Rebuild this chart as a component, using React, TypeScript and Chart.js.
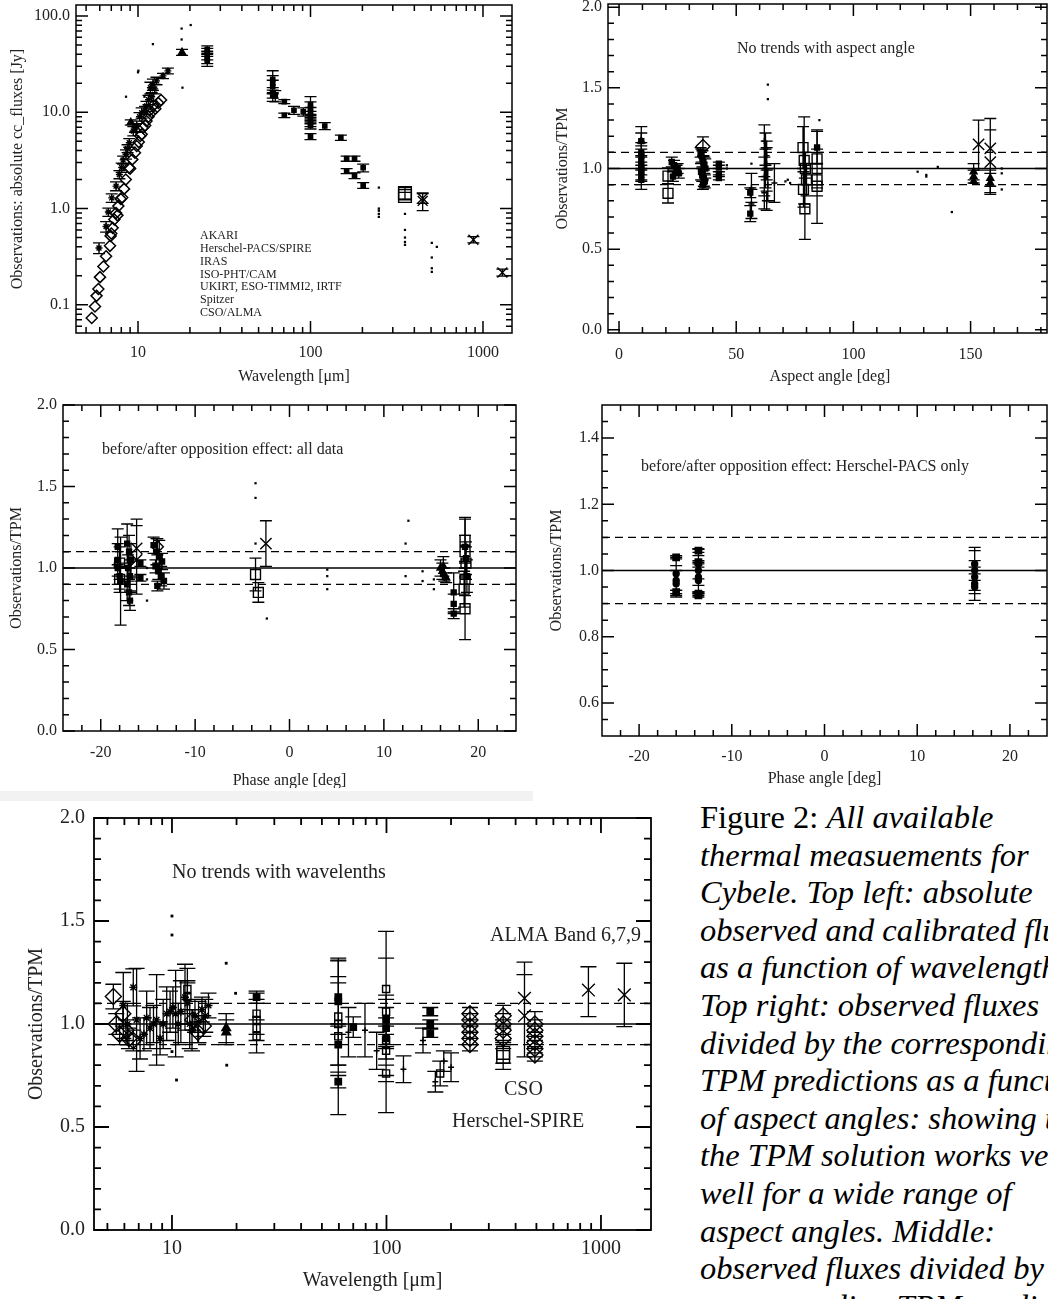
import React, { useEffect, useRef } from "react";
import { Chart, registerables } from "chart.js";
Chart.register(...registerables);

const FONT = '"Liberation Serif", "Times New Roman", serif';
const TXT = "#222";

// ---------------- Panel 1: absolute fluxes vs wavelength ----------------
const sedIsoWl = [5.39, 5.63, 5.75, 5.89, 6.02, 6.3, 6.53, 6.88, 6.94, 7.13, 7.29, 7.46, 7.69, 7.94, 8.3, 8.49, 8.87, 9.27, 9.83, 10.3, 10.7, 11.2, 11.7, 12.3, 13.1, 13.6, 7.0, 7.6, 8.1, 9.0, 9.6, 10.1, 10.5, 11.0, 11.5, 12.0, 12.6];
const sedIsoFlux = [0.073, 0.096, 0.124, 0.146, 0.194, 0.25, 0.32, 0.41, 0.52, 0.63, 0.77, 0.9, 1.06, 1.26, 1.6, 2.0, 2.65, 3.24, 4.46, 5.66, 6.93, 8.1, 10.5, 11.8, 12.5, 13.4, 0.55, 0.85, 1.3, 2.6, 3.8, 4.9, 5.9, 7.3, 9.0, 10.0, 10.9];
const sedStarWl = [5.94, 6.53, 6.73, 7.04, 7.46, 7.8, 8.04, 8.2, 8.52, 8.7, 8.9, 9.39, 9.6, 9.83, 10.2, 10.5, 11.0, 11.2, 11.5, 11.8, 12.0, 12.2, 12.5, 12.8, 13.96, 14.9];
const sedStarFlux = [0.39, 0.65, 0.92, 1.29, 1.71, 2.26, 2.67, 3.2, 3.66, 4.2, 4.83, 6.38, 6.9, 7.2, 9.0, 9.9, 10.5, 11.6, 13.5, 18.0, 14.5, 19.5, 17.5, 21.2, 23.9, 26.9];
const sedStarErr = [0.05, 0.08, 0.09, 0.13, 0.18, 0.22, 0.3, 0.3, 0.4, 0.4, 0.5, 0.7, 0.7, 0.9, 0.9, 1.2, 1.0, 1.4, 1.5, 2.5, 1.5, 2.6, 2.0, 1.9, 1.5, 1.8];
const sedTriWl = [9.08, 18.0];
const sedTriFlux = [7.85, 42];
const sedTriErr = [0.5, 3];
const sedDotWl = [12.2, 10.0, 10.05, 8.52, 10.9, 17.9, 17.9, 20.2, 18.1, 249, 249, 249, 249, 249, 353, 353, 353, 353, 353, 505, 505, 505, 505, 540];
const sedDotFlux = [51, 26, 27, 14.5, 14.5, 74, 57, 80.5, 18, 1.65, 1.0, 0.95, 0.88, 0.82, 0.88, 0.6, 0.5, 0.45, 0.42, 0.44, 0.31, 0.24, 0.22, 0.4];
const sedFarWl = [25.2, 25.2, 25.2, 25.2, 25.2, 60.4, 60.4, 60.4, 60.4, 60.4, 62.5, 70.5, 70.5, 80.2, 90.8, 100, 100, 100, 100, 100, 100, 100, 100, 121, 150, 162, 162, 180, 180, 202, 202];
const sedFarFlux = [45, 42, 39, 36, 34, 22, 20, 18.5, 16, 15, 14.8, 12.9, 9.3, 10.5, 10.1, 12, 11, 10, 9.2, 8.4, 7.8, 7.3, 5.6, 7.2, 5.45, 3.3, 2.45, 3.3, 2.2, 2.65, 1.74];
const sedFarErr = [4, 4, 4, 4, 4, 5, 4, 3, 2, 2, 2, 0.6, 0.5, 1.0, 1.0, 2.5, 1.8, 1.2, 1.0, 0.8, 0.7, 0.6, 0.4, 0.6, 0.35, 0.2, 0.15, 0.2, 0.15, 0.25, 0.12];
const sedCsoWl = [353, 353];
const sedCsoFlux = [1.45, 1.35];
const sedCsoErr = [0.2, 0.12];
const sedAlmaWl = [447, 447, 880, 1295];
const sedAlmaFlux = [1.2, 1.28, 0.475, 0.217];
const sedAlmaErr = [0.25, 0.15, 0.035, 0.018];
const sedLegend = ["AKARI", "Herschel-PACS/SPIRE", "IRAS", "ISO-PHT/CAM", "UKIRT, ESO-TIMMI2, IRTF", "Spitzer", "CSO/ALMA"];

// ---------------- Panel 2: ratio vs aspect angle ----------------
const aspFilledX = [9.5, 9.5, 9.5, 9.5, 9.5, 9.5, 9.5, 9.5, 9.5, 22.5, 23.5, 24.5, 25.5, 23, 25, 34.8, 35.2, 35.6, 36, 36.4, 36.8, 35, 35.5, 36.2, 36.6, 35.8, 42.6, 42.6, 42.6, 42.6, 56, 56, 84.5];
const aspFilledY = [1.17, 1.1, 1.08, 1.05, 1.02, 1.0, 0.98, 0.96, 0.93, 1.04, 1.02, 0.99, 0.97, 0.95, 1.0, 1.1, 1.08, 1.06, 1.04, 1.02, 1.0, 0.98, 0.96, 0.94, 0.92, 0.9, 1.03, 1.01, 0.97, 0.94, 0.85, 0.72, 1.13];
const aspFilledErr = [0.09, 0.06, 0.06, 0.05, 0.06, 0.07, 0.06, 0.06, 0.06, 0.03, 0.03, 0.03, 0.03, 0.03, 0.03, 0.03, 0.04, 0.05, 0.04, 0.05, 0.06, 0.05, 0.04, 0.05, 0.04, 0.03, 0.01, 0.01, 0.01, 0.01, 0.03, 0.05, 0.1];
const aspPlusX = [62, 62.5, 63, 63, 62.5, 62, 63.5, 62, 63, 66.3, 56.5, 56.5];
const aspPlusY = [1.17, 1.12, 1.08, 1.03, 1.0, 0.95, 0.9, 0.85, 0.8, 0.91, 0.78, 0.88];
const aspPlusErr = [0.1, 0.1, 0.09, 0.1, 0.12, 0.12, 0.1, 0.1, 0.06, 0.12, 0.09, 0.09];
const aspSqX = [20.9, 20.9, 78.5, 79, 79.5, 80, 78.7, 79.3, 84.5, 84.5, 84.5, 84.5];
const aspSqY = [0.953, 0.846, 1.13, 1.05, 1.0, 0.93, 0.87, 0.75, 1.06, 1.0, 0.93, 0.89];
const aspSqErr = [0.05, 0.06, 0.13, 0.27, 0.1, 0.1, 0.11, 0.19, 0.18, 0.1, 0.1, 0.23];
const aspDiaX = [35.8];
const aspDiaY = [1.136];
const aspDiaErr = [0.06];
const aspTriX = [151.3, 151.3, 151.3, 158.4, 158.4, 9.5];
const aspTriY = [0.98, 0.95, 0.92, 0.94, 0.91, 1.17];
const aspTriErr = [0.05, 0.04, 0.01, 0.05, 0.06, 0.05];
const aspXX = [153.4, 158.4, 158.4];
const aspXY = [1.15, 1.125, 1.04];
const aspXLo = [0.99, 0.84, 0.84];
const aspXHi = [1.3, 1.31, 1.24];
const aspDotX = [46, 46, 56.5, 63.5, 63.5, 71, 72, 73, 85.5, 127.4, 131.1, 131.1, 136, 142, 163.3, 163.3, 163.3];
const aspDotY = [1.02, 1.0, 1.03, 1.52, 1.43, 0.92, 0.93, 0.91, 1.3, 0.98, 0.96, 0.95, 1.01, 0.73, 1.0, 0.97, 0.87];

// ---------------- Panel 3: ratio vs phase angle (all data) ----------------
const phFilledX = [-18.2, -18.2, -18.2, -18.0, -17.9, -17.2, -17.0, -16.8, -17.1, -16.9, -17.2, -17.0, -16.9, -15.8, -15.8, -14.4, -14.1, -13.8, -13.5, -14.2, -13.9, -13.6, -13.3, -14.0, 17.4, 17.4, 17.4, 18.6, 18.7, 18.8];
const phFilledY = [1.13, 1.05, 1.0, 0.95, 0.92, 1.15, 1.1, 1.05, 1.0, 0.95, 0.9, 0.85, 0.8, 1.03, 0.94, 1.14, 1.1, 1.07, 1.04, 1.01, 0.98, 0.95, 0.92, 0.89, 0.85, 0.78, 0.72, 1.13, 1.06, 0.95];
const phFilledErr = [0.11, 0.1, 0.1, 0.08, 0.27, 0.12, 0.1, 0.1, 0.08, 0.1, 0.1, 0.08, 0.06, 0.02, 0.02, 0.05, 0.08, 0.1, 0.05, 0.04, 0.05, 0.06, 0.05, 0.03, 0.12, 0.06, 0.03, 0.18, 0.1, 0.1];
const phSqX = [-18.0, -18.0, -3.6, -3.3, 18.6, 18.6, 18.7, 18.6, 18.5, 18.6];
const phSqY = [1.03, 0.93, 0.96, 0.85, 1.17, 1.1, 1.03, 0.93, 0.87, 0.75];
const phSqErr = [0.1, 0.08, 0.1, 0.06, 0.13, 0.1, 0.1, 0.1, 0.11, 0.19];
const phXX = [-16.2, -16.2, -2.5];
const phXY = [1.12, 1.05, 1.15];
const phXErr = [0.18, 0.21, 0.14];
const phDiaX = [-14.0];
const phDiaY = [1.13];
const phDiaErr = [0.05];
const phTriX = [16.0, 16.2, 16.4, 16.6, 16.3];
const phTriY = [1.0, 0.98, 0.96, 0.94, 1.01];
const phTriErr = [0.05, 0.05, 0.04, 0.03, 0.06];
const phDotX = [-15.1, -15.1, -15.1, -3.6, -3.6, -3.6, -2.4, 4.0, 4.0, 4.0, 12.3, 12.3, 12.6, 14.1, 14.1, 15.3, 15.3];
const phDotY = [1.0, 0.93, 0.8, 1.52, 1.43, 1.15, 0.69, 0.99, 0.95, 0.87, 1.15, 0.95, 1.29, 0.98, 0.92, 0.93, 0.87];

// ---------------- Panel 4: Herschel-PACS only ----------------
const pacsSqX = [-16.0, -16.0, -13.6, -13.6, -13.6, -13.6];
const pacsSqY = [1.04, 0.935, 1.06, 1.025, 0.93, 0.925];
const pacsSqErr = [0.005, 0.005, 0.005, 0.005, 0.005, 0.005];
const pacsCircX = [-16.0, -16.0, -16.0, -13.6, -13.6, -13.6, -13.6, 16.2, 16.2, 16.2, 16.2, 16.2];
const pacsCircY = [0.99, 0.97, 0.96, 1.02, 1.0, 0.98, 0.97, 1.02, 1.0, 0.98, 0.96, 0.95];
const pacsCircErr = [0.05, 0.045, 0.04, 0.045, 0.045, 0.045, 0.04, 0.05, 0.06, 0.05, 0.05, 0.04];

// ---------------- Panel 5: ratio vs wavelength ----------------
const wlDiaX = [5.33, 5.5, 5.7, 5.9, 6.1, 6.3, 6.6, 12.5, 13.2, 14.0, 245, 245, 245, 245, 245, 245, 350, 350, 350, 350, 492, 492, 492, 492, 492, 492];
const wlDiaY = [1.133, 1.0, 0.95, 1.05, 0.97, 0.93, 0.92, 1.02, 0.96, 0.99, 1.05, 1.02, 0.99, 0.96, 0.93, 0.9, 1.04, 1.0, 0.97, 0.93, 1.0, 0.97, 0.94, 0.91, 0.88, 0.85];
const wlDiaErr = [0.06, 0.05, 0.05, 0.06, 0.05, 0.05, 0.05, 0.05, 0.05, 0.05, 0.03, 0.03, 0.03, 0.03, 0.03, 0.03, 0.05, 0.05, 0.05, 0.05, 0.06, 0.05, 0.05, 0.05, 0.04, 0.03];
const wlPlusX = [5.93, 6.2, 6.6, 6.84, 7.1, 7.4, 7.62, 7.9, 8.2, 8.48, 8.8, 9.1, 9.45, 9.8, 10.1, 10.4, 10.7, 11.0, 11.5, 11.8, 12.1, 12.4, 12.8, 13.3, 13.8, 14.3, 14.8];
const wlPlusY = [1.09, 1.0, 1.178, 1.02, 0.93, 0.95, 1.03, 0.98, 1.0, 1.02, 0.93, 1.0, 1.05, 1.06, 1.08, 1.05, 1.0, 1.06, 1.13, 1.1, 1.0, 0.97, 1.04, 1.01, 1.07, 1.04, 1.09];
const wlPlusErr = [0.16, 0.1, 0.09, 0.25, 0.1, 0.08, 0.13, 0.1, 0.09, 0.22, 0.08, 0.12, 0.13, 0.1, 0.1, 0.21, 0.1, 0.15, 0.16, 0.1, 0.12, 0.1, 0.08, 0.1, 0.06, 0.08, 0.06];
const wlFillX = [24.8, 59.6, 59.6, 59.6, 59.6, 70, 99.6, 99.6, 99.6, 160, 160, 160];
const wlFillY = [1.13, 1.13, 1.11, 0.9, 0.72, 0.985, 1.02, 0.98, 0.93, 1.06, 1.0, 0.955];
const wlFillErr = [0.03, 0.18, 0.12, 0.1, 0.03, 0.05, 0.12, 0.1, 0.1, 0.02, 0.02, 0.02];
const wlSqX = [11.8, 11.8, 24.8, 24.8, 24.8, 24.8, 59.6, 59.6, 59.6, 99.6, 99.6, 99.6, 99.6, 99.6, 178];
const wlSqY = [1.17, 1.13, 1.05, 1.02, 0.98, 0.94, 1.036, 1.0, 0.94, 1.17, 1.06, 0.92, 0.87, 0.76, 0.76];
const wlSqErr = [0.1, 0.08, 0.1, 0.1, 0.12, 0.08, 0.27, 0.2, 0.38, 0.28, 0.26, 0.2, 0.12, 0.19, 0.06];
const wlCsoX = [350, 350];
const wlCsoY = [0.86, 0.84];
const wlCsoErr = [0.05, 0.06];
const wlCrossX = [66.5, 79.4, 90, 120, 148, 169, 185, 200];
const wlCrossY = [0.96, 0.97, 0.87, 0.78, 0.92, 0.72, 0.82, 0.79];
const wlCrossErr = [0.12, 0.13, 0.09, 0.065, 0.06, 0.05, 0.05, 0.07];
const wlTriX = [17.9, 17.9];
const wlTriY = [0.98, 0.96];
const wlTriErr = [0.07, 0.06];
const wlXX = [440, 440, 874, 1285];
const wlXY = [1.125, 1.04, 1.165, 1.141];
const wlXLo = [0.84, 0.84, 1.036, 0.987];
const wlXHi = [1.3, 1.24, 1.278, 1.295];
const wlDotX = [10.0, 10.0, 10.0, 10.5, 17.9, 19.8, 18.0];
const wlDotY = [1.524, 1.432, 0.866, 0.728, 1.295, 1.149, 0.8];

// ---------------- ticks ----------------
const logMajor = [10, 100, 1000];
const logMajorLabels = ["10", "100", "1000"];
const logMinor = [5, 6, 7, 8, 9, 20, 30, 40, 50, 60, 70, 80, 90, 200, 300, 400, 500, 600, 700, 800, 900];
const fluxMajor = [0.1, 1, 10, 100];
const fluxLabels = ["0.1", "1.0", "10.0", "100.0"];
const fluxMinor = [0.06, 0.07, 0.08, 0.09, 0.2, 0.3, 0.4, 0.5, 0.6, 0.7, 0.8, 0.9, 2, 3, 4, 5, 6, 7, 8, 9, 20, 30, 40, 50, 60, 70, 80, 90];
const ratioMajor = [0, 0.5, 1.0, 1.5, 2.0];
const ratioLabels = ["0.0", "0.5", "1.0", "1.5", "2.0"];
const ratioMinor = [0.1, 0.2, 0.3, 0.4, 0.6, 0.7, 0.8, 0.9, 1.1, 1.2, 1.3, 1.4, 1.6, 1.7, 1.8, 1.9];
const aspMajor = [0, 50, 100, 150];
const aspLabels = ["0", "50", "100", "150"];
const aspMinor = [10, 20, 30, 40, 60, 70, 80, 90, 110, 120, 130, 140, 160, 170, 180];
const phMajor = [-20, -10, 0, 10, 20];
const phLabels = ["-20", "-10", "0", "10", "20"];
const phMinor = [-22, -18, -16, -14, -12, -8, -6, -4, -2, 2, 4, 6, 8, 12, 14, 16, 18, 22];
const pacsMajor = [0.6, 0.8, 1.0, 1.2, 1.4];
const pacsLabels = ["0.6", "0.8", "1.0", "1.2", "1.4"];
const pacsMinor = [0.55, 0.65, 0.7, 0.75, 0.85, 0.9, 0.95, 1.05, 1.1, 1.15, 1.25, 1.3, 1.35, 1.45];
const refLevels = [1.0, 1.1, 0.9];

const captionLines = [
  "All available",
  "thermal measuements for",
  "Cybele. Top left: absolute",
  "observed and calibrated fluxes",
  "as a function of wavelength.",
  "Top right: observed fluxes",
  "divided by the corresponding",
  "TPM predictions as a function",
  "of aspect angles: showing that",
  "the TPM solution works very",
  "well for a wide range of",
  "aspect angles. Middle:",
  "observed fluxes divided by",
  "corresponding TPM predictions",
];

// ---------------- helpers ----------------
type Mark = "dia" | "sq" | "fsq" | "tri" | "circ" | "x" | "dot" | "star" | "plus";
const MARKS: Record<Mark, { ps: string; fill: boolean }> = {
  dia: { ps: "rectRot", fill: false },
  sq: { ps: "rect", fill: false },
  fsq: { ps: "rect", fill: true },
  tri: { ps: "triangle", fill: true },
  circ: { ps: "circle", fill: true },
  x: { ps: "crossRot", fill: false },
  dot: { ps: "rect", fill: true },
  star: { ps: "star", fill: false },
  plus: { ps: "cross", fill: false },
};

function mk(mark: Mark, xs: number[], ys: number[], o: { err?: number[]; lo?: number[]; hi?: number[]; r: number; cap?: number; bw?: number }) {
  const st = MARKS[mark];
  const lo = o.lo ?? (o.err ? ys.map((y, i) => y - o.err![i]) : undefined);
  const hi = o.hi ?? (o.err ? ys.map((y, i) => y + o.err![i]) : undefined);
  return {
    type: "scatter",
    data: xs.map((x, i) => ({ x, y: ys[i] })),
    pointStyle: st.ps,
    pointRadius: o.r,
    pointHoverRadius: o.r,
    pointBackgroundColor: st.fill ? "#000" : "rgba(0,0,0,0)",
    pointBorderColor: "#000",
    pointBorderWidth: o.bw ?? 1.4,
    showLine: false,
    errLo: lo,
    errHi: hi,
    cap: o.cap ?? 5,
  };
}

function refLines(xmin: number, xmax: number) {
  return refLevels.map((lv, i) => ({
    type: "line",
    data: [{ x: xmin, y: lv }, { x: xmax, y: lv }],
    borderColor: "#000",
    borderWidth: 1.3,
    borderDash: i === 0 ? [] : [8, 5],
    pointRadius: 0,
    fill: false,
  }));
}

const errorBarPlugin = {
  id: "errBars",
  beforeDatasetsDraw(chart: any) {
    const { ctx, chartArea: a } = chart;
    const xs = chart.scales.x, ys = chart.scales.y;
    ctx.save();
    ctx.beginPath();
    ctx.rect(a.left, a.top, a.right - a.left, a.bottom - a.top);
    ctx.clip();
    ctx.strokeStyle = "#000";
    ctx.lineWidth = 1.3;
    ctx.setLineDash([]);
    chart.data.datasets.forEach((ds: any) => {
      if (!ds.errLo) return;
      ctx.beginPath();
      ds.data.forEach((p: any, i: number) => {
        const x = xs.getPixelForValue(p.x);
        const y1 = ys.getPixelForValue(ds.errLo[i]);
        const y2 = ys.getPixelForValue(ds.errHi[i]);
        ctx.moveTo(x, y1); ctx.lineTo(x, y2);
        ctx.moveTo(x - ds.cap, y1); ctx.lineTo(x + ds.cap, y1);
        ctx.moveTo(x - ds.cap, y2); ctx.lineTo(x + ds.cap, y2);
      });
      ctx.stroke();
    });
    ctx.restore();
  },
};

type Note = { text: string; x: number; y: number; px?: number };
type AxesCfg = {
  xMajor: number[]; xLabels: string[]; xMinor: number[];
  yMajor: number[]; yLabels: string[]; yMinor: number[];
  fontPx: number; xLabelY: number; yLabelRight: number;
  xTitle: string; xTitleY: number; xTitleX?: number;
  yTitle: string; yTitleX: number; yTitleY?: number;
  maj: number; min: number; lw: number; notes: Note[];
};

function axesPlugin(c: AxesCfg) {
  return {
    id: "idlAxes",
    afterDraw(chart: any) {
      const { ctx, chartArea: a } = chart;
      const xs = chart.scales.x, ys = chart.scales.y;
      ctx.save();
      ctx.strokeStyle = "#000";
      ctx.lineWidth = c.lw;
      ctx.setLineDash([]);
      ctx.strokeRect(a.left, a.top, a.right - a.left, a.bottom - a.top);
      ctx.beginPath();
      const xt = (v: number, len: number) => {
        const p = xs.getPixelForValue(v);
        ctx.moveTo(p, a.bottom); ctx.lineTo(p, a.bottom - len);
        ctx.moveTo(p, a.top); ctx.lineTo(p, a.top + len);
      };
      const yt = (v: number, len: number) => {
        const p = ys.getPixelForValue(v);
        ctx.moveTo(a.left, p); ctx.lineTo(a.left + len, p);
        ctx.moveTo(a.right, p); ctx.lineTo(a.right - len, p);
      };
      c.xMajor.forEach((v) => xt(v, c.maj));
      c.xMinor.forEach((v) => xt(v, c.min));
      c.yMajor.forEach((v) => yt(v, c.maj));
      c.yMinor.forEach((v) => yt(v, c.min));
      ctx.stroke();
      ctx.fillStyle = TXT;
      ctx.font = `${c.fontPx}px ${FONT}`;
      ctx.textBaseline = "middle";
      ctx.textAlign = "center";
      c.xMajor.forEach((v, i) => ctx.fillText(c.xLabels[i], xs.getPixelForValue(v), c.xLabelY));
      ctx.textAlign = "right";
      c.yMajor.forEach((v, i) => ctx.fillText(c.yLabels[i], c.yLabelRight, ys.getPixelForValue(v)));
      ctx.textAlign = "center";
      ctx.fillText(c.xTitle, c.xTitleX ?? (a.left + a.right) / 2, c.xTitleY);
      ctx.save();
      ctx.translate(c.yTitleX, c.yTitleY ?? (a.top + a.bottom) / 2);
      ctx.rotate(-Math.PI / 2);
      ctx.fillText(c.yTitle, 0, 0);
      ctx.restore();
      ctx.textAlign = "left";
      c.notes.forEach((n) => {
        ctx.font = `${n.px ?? c.fontPx}px ${FONT}`;
        ctx.fillText(n.text, n.x, n.y);
      });
      ctx.restore();
    },
  };
}

type PanelCfg = {
  left: number; top: number; w: number; h: number;
  area: { l: number; t: number; r: number; b: number };
  xType: string; xMin: number; xMax: number;
  yType: string; yMin: number; yMax: number;
  datasets: () => any[];
  axes: AxesCfg;
};

function Panel({ cfg }: { cfg: PanelCfg }) {
  const ref = useRef<HTMLCanvasElement>(null);
  useEffect(() => {
    const chart = new Chart(ref.current as HTMLCanvasElement, {
      type: "scatter",
      data: { datasets: cfg.datasets() as any },
      options: {
        responsive: false,
        animation: false,
        devicePixelRatio: 1,
        events: [],
        layout: {
          autoPadding: false,
          padding: { left: cfg.area.l, top: cfg.area.t, right: cfg.w - cfg.area.r, bottom: cfg.h - cfg.area.b },
        },
        scales: {
          x: { type: cfg.xType as any, min: cfg.xMin, max: cfg.xMax, display: false },
          y: { type: cfg.yType as any, min: cfg.yMin, max: cfg.yMax, display: false },
        },
        plugins: { legend: { display: false }, tooltip: { enabled: false } },
      },
      plugins: [errorBarPlugin, axesPlugin(cfg.axes)],
    } as any);
    return () => chart.destroy();
  }, []);
  return (
    <canvas
      ref={ref}
      width={cfg.w}
      height={cfg.h}
      style={{ position: "absolute", left: cfg.left, top: cfg.top, width: cfg.w, height: cfg.h }}
    />
  );
}

const FS = 16;

const panel1: PanelCfg = {
  left: 0, top: 0, w: 524, h: 392,
  area: { l: 76, t: 5, r: 512, b: 333 },
  xType: "logarithmic", xMin: 4.37, xMax: 1473,
  yType: "logarithmic", yMin: 0.051, yMax: 130,
  datasets: () => [
    mk("x", sedAlmaWl, sedAlmaFlux, { err: sedAlmaErr, r: 7, cap: 6 }),
    mk("sq", sedCsoWl, sedCsoFlux, { err: sedCsoErr, r: 9, cap: 6 }),
    mk("fsq", sedFarWl, sedFarFlux, { err: sedFarErr, r: 3, cap: 6 }),
    mk("dot", sedDotWl, sedDotFlux, { r: 1.6, bw: 0 }),
    mk("tri", sedTriWl, sedTriFlux, { err: sedTriErr, r: 4, cap: 6 }),
    mk("star", sedStarWl, sedStarFlux, { err: sedStarErr, r: 3.5, cap: 6 }),
    mk("dia", sedIsoWl, sedIsoFlux, { r: 5.5, bw: 1.5 }),
  ],
  axes: {
    xMajor: logMajor, xLabels: logMajorLabels, xMinor: logMinor,
    yMajor: fluxMajor, yLabels: fluxLabels, yMinor: fluxMinor,
    fontPx: FS, xLabelY: 353, yLabelRight: 70,
    xTitle: "Wavelength [μm]", xTitleY: 377,
    yTitle: "Observations: absolute cc_fluxes [Jy]", yTitleX: 18,
    maj: 12, min: 6, lw: 1.5,
    notes: sedLegend.map((t, i) => ({ text: t, x: 200, y: 236 + 12.8 * i, px: 12 })),
  },
};

const panel2: PanelCfg = {
  left: 524, top: 0, w: 524, h: 392,
  area: { l: 84, t: 4, r: 523, b: 333 },
  xType: "linear", xMin: -4.7, xMax: 182.6,
  yType: "linear", yMin: -0.02, yMax: 2.02,
  datasets: () => [
    mk("x", aspXX, aspXY, { lo: aspXLo, hi: aspXHi, r: 8, cap: 6 }),
    mk("dia", aspDiaX, aspDiaY, { err: aspDiaErr, r: 7, cap: 6 }),
    mk("sq", aspSqX, aspSqY, { err: aspSqErr, r: 7, cap: 6 }),
    mk("tri", aspTriX, aspTriY, { err: aspTriErr, r: 4, cap: 6 }),
    mk("fsq", aspFilledX, aspFilledY, { err: aspFilledErr, r: 3.5, cap: 6 }),
    mk("plus", aspPlusX, aspPlusY, { err: aspPlusErr, r: 3, cap: 6 }),
    mk("dot", aspDotX, aspDotY, { r: 1.6, bw: 0 }),
    ...refLines(-4.7, 182.6),
  ],
  axes: {
    xMajor: aspMajor, xLabels: aspLabels, xMinor: aspMinor,
    yMajor: ratioMajor, yLabels: ratioLabels, yMinor: ratioMinor,
    fontPx: FS, xLabelY: 355, yLabelRight: 78,
    xTitle: "Aspect angle [deg]", xTitleY: 377, xTitleX: 306,
    yTitle: "Observations/TPM", yTitleX: 39,
    maj: 12, min: 6, lw: 1.5,
    notes: [{ text: "No trends with aspect angle", x: 213, y: 49 }],
  },
};

const panel3: PanelCfg = {
  left: 0, top: 392, w: 533, h: 396,
  area: { l: 63, t: 13, r: 516, b: 339 },
  xType: "linear", xMin: -24, xMax: 24,
  yType: "linear", yMin: 0, yMax: 2,
  datasets: () => [
    mk("x", phXX, phXY, { err: phXErr, r: 8, cap: 6 }),
    mk("dia", phDiaX, phDiaY, { err: phDiaErr, r: 6, cap: 6 }),
    mk("sq", phSqX, phSqY, { err: phSqErr, r: 7, cap: 6 }),
    mk("tri", phTriX, phTriY, { err: phTriErr, r: 4, cap: 6 }),
    mk("fsq", phFilledX, phFilledY, { err: phFilledErr, r: 3.5, cap: 6 }),
    mk("dot", phDotX, phDotY, { r: 1.6, bw: 0 }),
    ...refLines(-24, 24),
  ],
  axes: {
    xMajor: phMajor, xLabels: phLabels, xMinor: phMinor,
    yMajor: ratioMajor, yLabels: ratioLabels, yMinor: ratioMinor,
    fontPx: FS, xLabelY: 361, yLabelRight: 57,
    xTitle: "Phase angle [deg]", xTitleY: 389,
    yTitle: "Observations/TPM", yTitleX: 17,
    maj: 12, min: 6, lw: 1.5,
    notes: [{ text: "before/after opposition effect: all data", x: 102, y: 58 }],
  },
};

const panel4: PanelCfg = {
  left: 533, top: 392, w: 515, h: 400,
  area: { l: 69, t: 13, r: 514, b: 344 },
  xType: "linear", xMin: -24, xMax: 24,
  yType: "linear", yMin: 0.5, yMax: 1.5,
  datasets: () => [
    mk("fsq", pacsSqX, pacsSqY, { err: pacsSqErr, r: 4.5, cap: 6 }),
    mk("circ", pacsCircX, pacsCircY, { err: pacsCircErr, r: 3, cap: 6 }),
    ...refLines(-24, 24),
  ],
  axes: {
    xMajor: phMajor, xLabels: phLabels, xMinor: phMinor,
    yMajor: pacsMajor, yLabels: pacsLabels, yMinor: pacsMinor,
    fontPx: FS, xLabelY: 365, yLabelRight: 66,
    xTitle: "Phase angle [deg]", xTitleY: 387,
    yTitle: "Observations/TPM", yTitleX: 24,
    maj: 12, min: 6, lw: 1.5,
    notes: [{ text: "before/after opposition effect: Herschel-PACS only", x: 108, y: 75 }],
  },
};

const panel5: PanelCfg = {
  left: 0, top: 800, w: 660, h: 499,
  area: { l: 94, t: 18, r: 651, b: 430 },
  xType: "logarithmic", xMin: 4.33, xMax: 1711,
  yType: "linear", yMin: 0, yMax: 2,
  datasets: () => [
    mk("x", wlXX, wlXY, { lo: wlXLo, hi: wlXHi, r: 9, cap: 8 }),
    mk("sq", wlCsoX, wlCsoY, { err: wlCsoErr, r: 9, cap: 8 }),
    mk("dia", wlDiaX, wlDiaY, { err: wlDiaErr, r: 8, cap: 8 }),
    mk("sq", wlSqX, wlSqY, { err: wlSqErr, r: 5, cap: 8 }),
    mk("tri", wlTriX, wlTriY, { err: wlTriErr, r: 5, cap: 8 }),
    mk("fsq", wlFillX, wlFillY, { err: wlFillErr, r: 4.5, cap: 8 }),
    mk("plus", wlCrossX, wlCrossY, { err: wlCrossErr, r: 3, cap: 8 }),
    mk("star", wlPlusX, wlPlusY, { err: wlPlusErr, r: 4, cap: 8 }),
    mk("dot", wlDotX, wlDotY, { r: 2, bw: 0 }),
    ...refLines(4.33, 1711),
  ],
  axes: {
    xMajor: logMajor, xLabels: logMajorLabels, xMinor: logMinor,
    yMajor: ratioMajor, yLabels: ratioLabels, yMinor: ratioMinor,
    fontPx: 20, xLabelY: 449, yLabelRight: 85,
    xTitle: "Wavelength [μm]", xTitleY: 481,
    yTitle: "Observations/TPM", yTitleX: 37,
    maj: 15, min: 7, lw: 1.8,
    notes: [
      { text: "No trends with wavelenths", x: 172, y: 73 },
      { text: "ALMA Band 6,7,9", x: 490, y: 136 },
      { text: "CSO", x: 504, y: 290 },
      { text: "Herschel-SPIRE", x: 452, y: 322 },
    ],
  },
};

export default function App() {
  return (
    <div style={{ position: "absolute", left: 0, top: 0, width: 1048, height: 1299, overflow: "hidden", background: "#fff" }}>
      <Panel cfg={panel1} />
      <Panel cfg={panel2} />
      <Panel cfg={panel3} />
      <Panel cfg={panel4} />
      <Panel cfg={panel5} />
      <div style={{ position: "absolute", left: 0, top: 791, width: 533, height: 10, background: "#f2f2f2" }} />
      <div
        style={{
          position: "absolute", left: 700, top: 799, fontFamily: FONT, fontSize: 32.5,
          lineHeight: "37.6px", color: "#000", whiteSpace: "nowrap",
        }}
      >
        {captionLines.map((l, i) => (
          <div key={i}>
            {i === 0 ? (
              <>
                <span>Figure 2: </span>
                <i>{l}</i>
              </>
            ) : (
              <i>{l}</i>
            )}
          </div>
        ))}
      </div>
    </div>
  );
}
